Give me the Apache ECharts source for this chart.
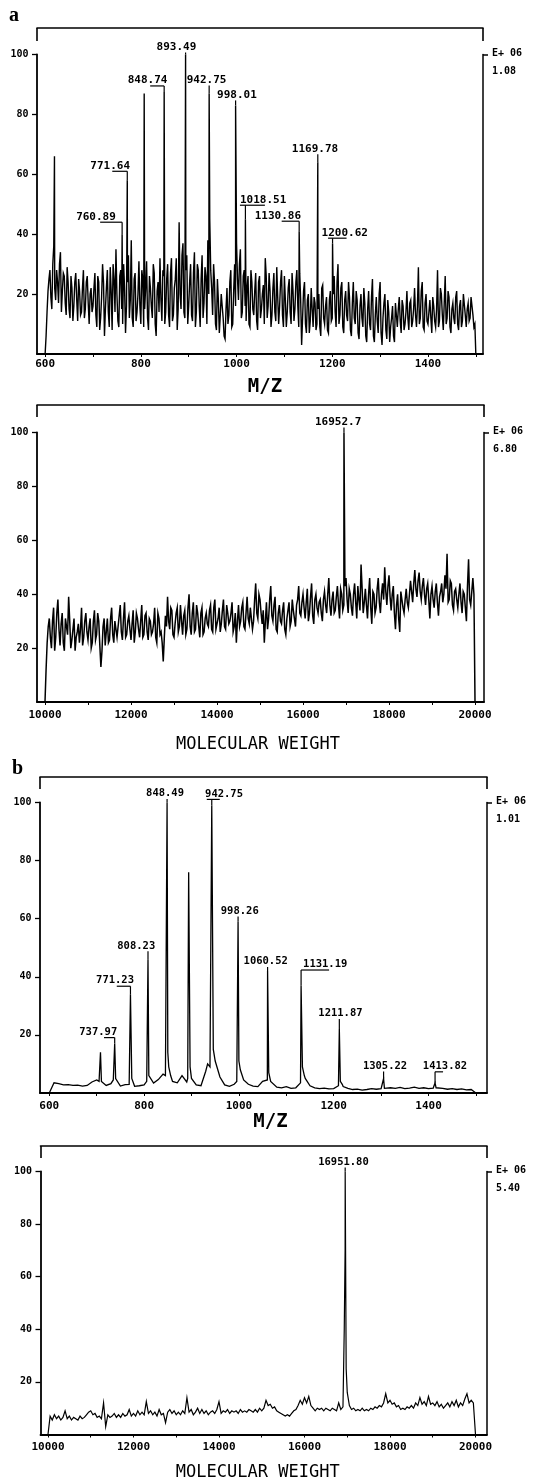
<!DOCTYPE html>
<html>
<head>
<meta charset="utf-8">
<script src="https://cdn.jsdelivr.net/npm/echarts@6/dist/echarts.min.js"></script>
<style>
  html, body { margin: 0; padding: 0; background: #fff; }
  #chart { width: 543px; height: 1484px; }
</style>
</head>
<body>
<div id="chart"></div>
<script>
// ---------------- data ----------------
// shared tick labels
const mzTickLabels = [600, 800, 1000, 1200, 1400];
const mwTickLabels = [10000, 12000, 14000, 16000, 18000, 20000];
const yTickLabels = [20, 40, 60, 80, 100];

// panel a, upper: ion spectrum, m/z 600-1500, read every 4 units (two interleaved passes)
const a1Start = 600, a1Step = 4;
const a1Noise = [
  0, 14, 25, 19, 30, 22, 28, 17, 34, 21, 26, 13, 24, 12, 22, 16, 27, 11, 21, 14, 28, 15, 26, 10, 22,
  16, 27, 9, 24, 12, 30, 6, 22, 14, 29, 8, 25, 35, 11, 26, 15, 30, 7, 24, 12, 38, 9, 27, 14, 31,
  10, 25, 15, 31, 8, 22, 12, 27, 6, 24, 32, 11, 26, 14, 30, 9, 32, 13, 25, 8, 44, 15, 37, 12, 33,
  16, 30, 11, 34, 14, 28, 9, 33, 17, 26, 38, 45, 22, 30, 10, 25, 7, 20, 12, 5, 22, 13, 28, 10, 30,
  37, 18, 35, 14, 28, 11, 26, 9, 24, 13, 27, 8, 26, 15, 23, 32, 12, 27, 9, 22, 14, 29, 10, 24, 13,
  26, 9, 22, 14, 27, 11, 24, 16, 27, 3, 21, 10, 18, 7, 22, 9, 17, 10, 20, 6, 23, 10, 19, 7, 21,
  12, 26, 9, 30, 13, 24, 7, 21, 11, 19, 6, 24, 10, 18, 5, 20, 9, 17, 4, 21, 8, 25, 4, 19, 7,
  24, 3, 17, 8, 18, 4, 12, 6, 17, 9, 19, 7, 16, 10, 21, 8, 18, 11, 22, 9, 29, 12, 24, 8, 20,
  10, 18, 7, 16, 9, 28, 11, 20, 8, 26, 12, 19, 7, 17, 10, 21, 8, 18, 11, 20, 9, 17, 12, 16, 9,
  0
];
const a1MidStart = 602;
const a1NoiseMid = [
  6, 21, 28, 15, 36, 18, 24, 30, 14, 27, 17, 29, 15, 26, 11, 24, 18, 25, 13, 22, 12, 24, 17, 20, 14,
  22, 13, 26, 8, 19, 24, 15, 28, 9, 21, 30, 14, 20, 9, 28, 10, 22, 16, 33, 18, 12, 25, 11, 20, 16,
  28, 9, 22, 12, 26, 16, 30, 10, 21, 14, 18, 28, 10, 25, 13, 27, 11, 22, 32, 15, 20, 33, 14, 28, 10,
  24, 13, 27, 9, 30, 16, 25, 12, 29, 10, 20, 28, 13, 24, 8, 18, 13, 16, 6, 15, 10, 24, 9, 21, 16,
  25, 30, 12, 26, 16, 22, 10, 28, 15, 21, 11, 24, 12, 20, 10, 26, 16, 21, 13, 27, 11, 19, 16, 28, 9,
  18, 14, 25, 10, 21, 15, 28, 9, 18, 12, 24, 7, 20, 11, 15, 19, 8, 15, 9, 22, 12, 16, 8, 18, 11,
  20, 14, 24, 10, 22, 9, 18, 13, 24, 8, 17, 12, 21, 7, 16, 12, 22, 6, 15, 10, 19, 6, 13, 11, 20,
  7, 12, 20, 5, 14, 9, 16, 4, 13, 15, 11, 18, 8, 14, 12, 17, 9, 15, 13, 16, 10, 21, 9, 17, 11,
  14, 12, 19, 11, 15, 9, 22, 13, 17, 10, 21, 9, 15, 12, 19, 10, 16, 9, 20, 13, 15, 11, 19, 13, 10
];
const a1OtherPeaks = [[619.5, 66], [807, 87]];
const a1PeakText = ['760.89', '771.64', '848.74', '893.49', '942.75', '998.01', '1018.51', '1130.86', '1169.78', '1200.62'];
const a1PeakInt = [40, 58, 87.5, 100, 87, 83, 45, 41, 64, 37];

// panel a, lower: deconvoluted molecular weight, 10000-20000, read every 50 (two interleaved passes)
const a2Start = 10000, a2Step = 50;
const a2Noise = [
  0, 22, 31, 20, 35, 24, 38, 21, 33, 19, 28, 39, 20, 27, 19, 26, 22, 35, 24, 33,
  23, 31, 22, 34, 25, 30, 13, 28, 21, 31, 23, 35, 22, 30, 24, 36, 23, 37, 25, 32,
  23, 34, 26, 31, 24, 36, 25, 33, 23, 30, 26, 35, 22, 31, 26, 15, 32, 39, 27, 34,
  24, 33, 26, 36, 25, 34, 27, 40, 25, 37, 27, 33, 24, 35, 26, 33, 28, 36, 26, 38,
  27, 35, 29, 38, 27, 33, 30, 37, 28, 22, 36, 30, 37, 27, 39, 29, 35, 30, 44, 31,
  38, 29, 22, 37, 31, 43, 30, 39, 26, 36, 29, 37, 25, 34, 28, 38, 31, 36, 43, 32,
  40, 31, 42, 33, 44, 29, 40, 33, 38, 30, 41, 33, 46, 32, 41, 34, 43, 31, 40, 36,
  46, 33, 40, 32, 44, 31, 38, 51, 33, 42, 31, 46, 29, 40, 35, 46, 33, 44, 50, 36,
  47, 34, 43, 27, 40, 26, 38, 33, 42, 35, 45, 37, 49, 39, 48, 38, 46, 36, 44, 31,
  43, 35, 44, 32, 41, 37, 47, 55, 38, 44, 34, 42, 35, 44, 33, 40, 30, 53, 36, 46,
  0
];
const a2MidStart = 10025;
const a2NoiseMid = [
  12, 28, 24, 30, 19, 33, 27, 29, 22, 31, 25, 30, 23, 31, 24, 29, 27, 21, 30, 26,
  28, 20, 30, 23, 33, 21, 19, 31, 26, 22, 31, 25, 30, 24, 32, 26, 31, 24, 30, 27,
  29, 22, 33, 27, 30, 24, 32, 26, 31, 25, 29, 24, 33, 25, 22, 24, 28, 30, 35, 25,
  29, 35, 28, 30, 32, 25, 35, 28, 33, 26, 36, 28, 33, 25, 31, 29, 34, 27, 35, 27,
  31, 26, 34, 28, 36, 29, 33, 26, 33, 30, 28, 35, 28, 33, 31, 35, 27, 38, 33, 40,
  33, 34, 30, 27, 38, 32, 36, 27, 33, 30, 34, 27, 31, 37, 30, 34, 28, 38, 33, 37,
  35, 37, 30, 39, 32, 38, 35, 37, 33, 38, 36, 40, 36, 38, 33, 39, 36, 42, 34, 43,
  38, 42, 35, 40, 37, 43, 34, 42, 37, 36, 40, 35, 41, 33, 42, 37, 40, 38, 41, 43,
  39, 40, 33, 36, 31, 41, 35, 38, 37, 40, 41, 44, 42, 45, 41, 43, 40, 42, 38, 40,
  38, 41, 37, 39, 44, 40, 42, 37, 45, 36, 41, 38, 40, 37, 41, 35, 43, 38, 41, 40
];
const a2PeakText = ['16952.7'];
const a2PeakInt = [100];

// panel b, upper: ion spectrum, m/z 600-1500 baseline read every 10
const b1Start = 600, b1Step = 10;
const b1Baseline = [
  0, 3.5, 3.2, 2.8, 2.9, 2.6, 2.7, 2.4, 2.6, 3.8,
  4.5, 4.0, 2.6, 3.2, 5.0, 2.4, 2.9, 3.5, 2.3, 2.5,
  2.8, 6.0, 3.4, 4.6, 6.5, 14, 4.0, 3.5, 6.0, 3.8,
  5.0, 2.8, 2.5, 7.5, 9.0, 11, 5.5, 2.8, 2.3, 3.0,
  11, 4.5, 3.0, 2.4, 2.2, 4.0, 4.5, 3.5, 2.0, 1.8,
  2.2, 1.6, 1.8, 3.5, 5.0, 2.5, 1.8, 1.5, 1.7, 1.4,
  1.5, 2.5, 2.2, 1.6, 1.2, 1.3, 1.0, 1.2, 1.5, 1.3,
  1.5, 1.4, 1.8, 1.6, 1.9, 1.5, 1.7, 2.0, 1.6, 1.8,
  1.5, 1.7, 1.4, 1.6, 1.3, 1.5, 1.2, 1.4, 1.1, 1.2,
  0
];
const b1OtherPeaks = [[708, 14], [894, 76]];
const b1PeakFlanks = [
  [705, 4], [735, 4.5], [768.5, 3], [774, 5], [805.5, 4], [845, 6], [852, 9], [856, 6],
  [892, 5], [897, 9], [934, 10], [939, 9], [946, 15], [995.5, 4], [1003, 8], [1063, 7],
  [1067, 4], [1134, 9], [1138, 6], [1214, 4], [1218, 3], [1303, 1.5], [1307, 1.6],
  [1412, 1.6], [1416, 1.8]
];
const b1PeakText = ['737.97', '771.23', '808.23', '848.49', '942.75', '998.26', '1060.52', '1131.19', '1211.87', '1305.22', '1413.82'];
const b1PeakInt = [17, 34, 46, 100, 99, 59, 42, 37, 22, 5, 3.5];

// panel b, lower: deconvoluted molecular weight, 10000-20000 read every 50
const b2Start = 10000, b2Step = 50;
const b2Baseline = [
  0, 7, 5.5, 7.5, 6, 7, 5.5, 6.5, 9, 6, 7, 5.5, 6.5, 6, 5.5, 7, 6, 6.5, 7.5, 8.5,
  9, 7.5, 8, 6.5, 7, 6, 12, 3, 7.5, 6.5, 7, 8, 6.5, 7.5, 6.5, 8, 7, 7.5, 9.5, 7,
  8, 7, 9, 7.5, 8.5, 7.5, 12.5, 8, 9, 7.5, 8.5, 7, 9.5, 7.5, 8, 4.5, 8.5, 9.5, 8, 9,
  7.5, 8.5, 7.5, 9, 8, 14, 8.5, 9.5, 7.5, 8.5, 10, 8, 9.5, 8, 9, 7.5, 8.5, 9, 8, 9.5,
  12.5, 8, 9, 8.5, 9.5, 8, 9, 8.5, 9, 8, 9.5, 8.5, 9, 8.5, 9.5, 9, 8.5, 9.5, 8.5, 10,
  9, 10, 13, 11, 11.5, 10, 10.5, 9, 8.5, 8, 7.5, 7, 7.5, 7, 8, 9, 9.5, 11, 13, 11.5,
  14, 12, 14.5, 11, 10, 9, 10, 9.5, 10, 9, 10, 9.5, 9, 10, 9.5, 9, 12, 9.5, 10.5, 70,
  16, 11, 9.5, 10, 9, 9.5, 9, 10, 9, 9.5, 9, 10, 9.5, 10.5, 10, 11, 10.5, 12, 15.5, 12,
  13, 11.5, 12, 10.5, 11, 9.5, 10, 9.5, 10.5, 10, 11, 10, 12, 11, 14, 11.5, 12.5, 11, 14.5, 11.5,
  12, 11, 12.5, 10.5, 11.5, 10, 11, 12, 10.5, 12.5, 11, 13, 10.5, 12, 11, 13.5, 15.5, 12, 13, 12,
  0
];
const b2PeakFlanks = [[16930, 40], [16975, 25]];
const b2PeakText = ['16951.80'];
const b2PeakInt = [100];

// full-scale intensities printed at the top right of each panel
const scaleText = ['1.08', '6.80', '1.01', '5.40'];

// ---------------- layout (pixels) ----------------
const FONT = '"DejaVu Sans Mono", "Liberation Mono", monospace';

// label placement: [dx, dy, underline start, underline end] relative to the peak top
const a1LabelLayout = [
  [-46, -12, -22, 0], [-37, -9, -15, 0], [-36.5, -6, -14, 0], [-29, -2], [-22.5, -8],
  [-18.5, -5], [-5.5, -14, -5.5, 19.5], [-44.5, -10, -17.5, 0], [-26, -8], [-11, -5, -4.5, 14]
];
const a2LabelLayout = [[-29, -5]];
const b1LabelLayout = [
  [-35.4, -6, -10.7, 0], [-34.4, -8, -13.7, 0], [-30.7, -8], [-21, -3.5], [-6.7, -6, -5, 8],
  [-17.3, -5], [-24, -4], [2, -15.5, 0, 28], [-21, -10], [-20.7, -7], [-12.2, -11, 0, 8]
];
const b2LabelLayout = [[-27, -4]];

const panels = [
  { left: 37, top: 54.5, width: 446, height: 299.5, min: 583, max: 1515,
    labels: mzTickLabels, tickStep: 100, labelMargin: 5,
    name: 'M/Z', nameBold: true, nameSize: 19, nameGap: 24, namePad: [0, 0, 0, 10],
    bracketOffset: 26.5, bracketLen: 13, lineWidth: 1.4, peakFont: 11 },
  { left: 37, top: 432.5, width: 447, height: 269.5, min: 9814, max: 20209,
    labels: mwTickLabels, tickStep: 1000, labelMargin: 8,
    name: 'MOLECULAR WEIGHT', nameBold: false, nameSize: 17, nameGap: 34, namePad: [0, 5, 0, 0],
    bracketOffset: 27.5, bracketLen: 12, lineWidth: 1.5, peakFont: 11 },
  { left: 40, top: 802.5, width: 447, height: 290.5, min: 580.4, max: 1523.4,
    labels: mzTickLabels, tickStep: 100, labelMargin: 8,
    name: 'M/Z', nameBold: true, nameSize: 19, nameGap: 20, namePad: [0, 0, 0, 14],
    bracketOffset: 25.5, bracketLen: 12, lineWidth: 1.3, peakFont: 10.5 },
  { left: 40.5, top: 1171.5, width: 446.5, height: 263, min: 9825, max: 20269,
    labels: mwTickLabels, tickStep: 1000, labelMargin: 7,
    name: 'MOLECULAR WEIGHT', nameBold: false, nameSize: 17, nameGap: 29.5, namePad: [0, 12, 0, 0],
    bracketOffset: 25.5, bracketLen: 12, lineWidth: 1.2, peakFont: 10.5 }
];

// ---------------- helpers ----------------
function sampled(start, step, values) {
  return values.map((v, i) => [start + i * step, v]);
}
function merge(lists) {
  const pts = [].concat(...lists);
  pts.sort((p, q) => p[0] - q[0]);
  return pts;
}
function labeledPeaks(texts, ints) {
  return texts.map((t, i) => [Number(t), ints[i]]);
}

const traces = [
  merge([sampled(a1Start, a1Step, a1Noise), sampled(a1MidStart, a1Step, a1NoiseMid),
         a1OtherPeaks, labeledPeaks(a1PeakText, a1PeakInt)]),
  merge([sampled(a2Start, a2Step, a2Noise), sampled(a2MidStart, a2Step, a2NoiseMid),
         labeledPeaks(a2PeakText, a2PeakInt)]),
  merge([sampled(b1Start, b1Step, b1Baseline), b1OtherPeaks, b1PeakFlanks,
         labeledPeaks(b1PeakText, b1PeakInt)]),
  merge([sampled(b2Start, b2Step, b2Baseline), b2PeakFlanks, labeledPeaks(b2PeakText, b2PeakInt)])
];
const peakLabels = [
  { text: a1PeakText, ints: a1PeakInt, layout: a1LabelLayout },
  { text: a2PeakText, ints: a2PeakInt, layout: a2LabelLayout },
  { text: b1PeakText, ints: b1PeakInt, layout: b1LabelLayout },
  { text: b2PeakText, ints: b2PeakInt, layout: b2LabelLayout }
];

const grids = [], xAxes = [], yAxes = [], series = [];
panels.forEach((p, g) => {
  grids.push({ left: p.left, top: p.top, width: p.width, height: p.height,
               containLabel: false, outerBoundsMode: 'none' });
  const ticks = [];
  for (let v = p.labels[0]; v <= p.labels[p.labels.length - 1] + p.tickStep * 1.5; v += p.tickStep) ticks.push(v);
  // bottom scale
  xAxes.push({
    type: 'value', gridIndex: g, position: 'bottom', min: p.min, max: p.max,
    axisLine: { show: true, onZero: false, lineStyle: { color: '#000', width: 1.8 } },
    axisTick: { show: true, customValues: ticks, length: 3, lineStyle: { color: '#000', width: 1 } },
    axisLabel: { show: true, customValues: p.labels, margin: p.labelMargin, color: '#000',
                 fontFamily: FONT, fontWeight: 'bold', fontSize: 11, formatter: v => String(v) },
    splitLine: { show: false },
    name: p.name, nameLocation: 'middle', nameGap: p.nameGap,
    nameTextStyle: { fontFamily: FONT, fontSize: p.nameSize, fontWeight: p.nameBold ? 'bold' : 'normal',
                     color: '#000', padding: p.namePad }
  });
  // scan-range bracket above the plot
  xAxes.push({
    type: 'value', gridIndex: g, position: 'top', offset: p.bracketOffset, min: p.min, max: p.max,
    axisLine: { show: true, onZero: false, lineStyle: { color: '#000', width: 1.6 } },
    axisTick: { show: true, inside: true, customValues: [p.min, p.max], length: p.bracketLen,
                lineStyle: { color: '#000', width: 1.6 } },
    axisLabel: { show: false }, splitLine: { show: false }
  });
  // relative intensity
  yAxes.push({
    type: 'value', gridIndex: g, position: 'left', min: 0, max: 100,
    axisLine: { show: true, onZero: false, lineStyle: { color: '#000', width: 1.8 } },
    axisTick: { show: true, customValues: yTickLabels, length: 5, lineStyle: { color: '#000', width: 1.3 } },
    axisLabel: { show: true, customValues: yTickLabels, margin: 8.5, color: '#000', showMaxLabel: true,
                 fontFamily: FONT, fontWeight: 'bold', fontSize: 10 },
    splitLine: { show: false }
  });
  // right frame with full-scale value
  yAxes.push({
    type: 'value', gridIndex: g, position: 'right', min: 0, max: 100,
    axisLine: { show: true, onZero: false, lineStyle: { color: '#000', width: 1.5 } },
    axisTick: { show: true, customValues: [100], length: 5, lineStyle: { color: '#000', width: 1.5 } },
    axisLabel: { show: true, customValues: [100], margin: 9, showMaxLabel: true, align: 'left',
                 padding: [16, 0, 0, 0],
                 formatter: () => '{e|E+ 06}\n{v|' + scaleText[g] + '}',
                 rich: {
                   e: { fontFamily: FONT, fontWeight: 'bold', fontSize: 10, color: '#000', lineHeight: 18 },
                   v: { fontFamily: FONT, fontWeight: 'bold', fontSize: 10, color: '#000', lineHeight: 18 }
                 } },
    splitLine: { show: false }
  });

  series.push({
    type: 'line', xAxisIndex: 2 * g, yAxisIndex: 2 * g, data: traces[g],
    symbol: 'none', showSymbol: false, animation: false, silent: true,
    lineStyle: { color: '#000', width: p.lineWidth, join: 'miter' }, z: 2
  });

  const L = peakLabels[g];
  series.push({
    type: 'custom', xAxisIndex: 2 * g, yAxisIndex: 2 * g, animation: false, silent: true, clip: false, z: 3,
    data: labeledPeaks(L.text, L.ints),
    renderItem: (params, api) => {
      const pt = api.coord([api.value(0), api.value(1)]);
      const lay = L.layout[params.dataIndex];
      const tx = pt[0] + lay[0], ty = pt[1] + lay[1];
      const children = [{
        type: 'text',
        style: { text: L.text[params.dataIndex], x: tx, y: ty, align: 'left', verticalAlign: 'bottom',
                 font: 'bold ' + p.peakFont + 'px ' + FONT, fill: '#000' }
      }];
      if (lay[1] < -1) {
        children.push({ type: 'line', shape: { x1: pt[0], y1: pt[1], x2: pt[0], y2: ty },
                        style: { stroke: '#000', lineWidth: 1.2 } });
      }
      if (lay.length > 2) {
        children.push({ type: 'line', shape: { x1: pt[0] + lay[2], y1: ty, x2: pt[0] + lay[3], y2: ty },
                        style: { stroke: '#000', lineWidth: 1.2 } });
      }
      return { type: 'group', children: children };
    }
  });
});

const chart = echarts.init(document.getElementById('chart'), null, { renderer: 'canvas' });
chart.setOption({
  backgroundColor: '#fff',
  animation: false,
  grid: grids,
  xAxis: xAxes,
  yAxis: yAxes,
  series: series,
  graphic: [
    { type: 'text', left: 9, top: 6, style: { text: 'a', font: 'bold 20px "Liberation Serif", serif', fill: '#000' } },
    { type: 'text', left: 12, top: 759, style: { text: 'b', font: 'bold 20px "Liberation Serif", serif', fill: '#000' } }
  ]
});
</script>
</body>
</html>
